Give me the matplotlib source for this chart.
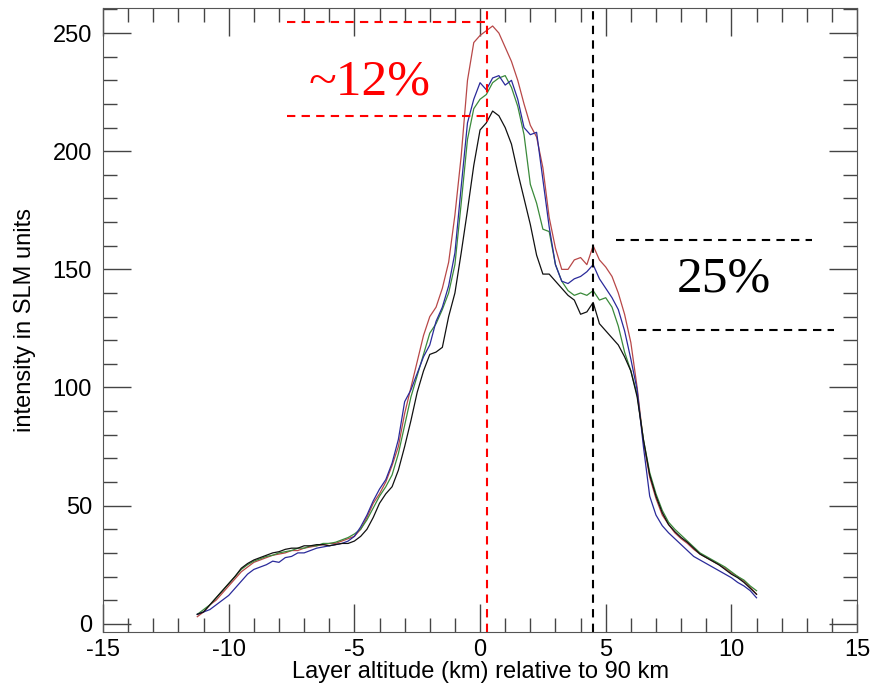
import numpy as np
import matplotlib
matplotlib.use("Agg")
import matplotlib.pyplot as plt
from matplotlib.ticker import MultipleLocator

plt.rcParams["axes.unicode_minus"] = False

# altitude grid (km, relative to 90 km)
altitude = np.arange(-11.25, 11.01, 0.25)

red = [3, 5, 8, 10, 13, 16, 19, 22, 24, 26,
       27, 28, 29, 29.5, 30, 31, 31, 32, 32.5, 33,
       33.5, 34, 34, 35, 36, 37, 40, 45, 51, 55,
       60, 67, 75, 89, 100, 111, 122, 130, 134, 142,
       153, 173, 198, 230, 246, 249, 251, 253, 250, 244,
       238, 230, 220, 211, 206, 193, 172, 159, 150, 150,
       154, 155, 152, 160, 154, 151, 147, 140, 131, 119,
       100, 77, 62, 53, 46, 42, 38.5, 36, 34, 31.5,
       29.5, 28, 26.5, 25, 23.5, 21.5, 20, 18, 15.5, 12.5]

blue = [4, 5, 6, 8, 10, 12, 15, 18, 21, 23,
        24, 25, 26.5, 26, 28, 28.5, 30, 30, 31, 32,
        32.5, 33, 33.5, 34, 35, 37, 41, 46, 52, 57,
        61, 68, 78, 94, 99, 106, 113, 118, 128, 134,
        143, 157, 185, 212, 222, 229, 226, 231, 232, 228,
        230, 222, 210, 207, 208, 188, 168, 152, 145, 144,
        146, 147, 149, 152, 146, 142, 138, 133, 124, 112,
        99, 75, 54, 46, 41.5, 38.5, 36, 33.5, 31, 28.5,
        27, 25.5, 24, 22.5, 21, 19.5, 17.5, 16, 14, 11]

green = [4, 6, 8, 11, 14, 17, 20, 23, 25, 26.5,
         27.5, 28.5, 29, 30, 30.5, 31, 32, 32, 33, 33,
         34, 34, 34.5, 35.5, 36.5, 38, 40, 44, 49, 54,
         58, 63, 72, 84, 96, 105, 114, 123, 127, 133,
         140, 152, 178, 205, 218, 222, 224, 229, 231, 232,
         227, 219, 207, 186, 178, 167, 166, 152, 145, 141,
         139, 140, 139, 141, 137, 138, 134, 126, 115, 107,
         97, 78, 64, 55, 48, 43, 40, 37.5, 35, 32.5,
         30, 28.5, 27, 25.5, 24, 22, 20, 18.5, 16, 14]

black = [4, 5, 8, 11, 14, 17, 20, 23.5, 25.5, 27,
         28, 29, 30, 30.5, 31.5, 32, 32, 33, 33, 33.5,
         33.5, 33, 33.5, 34, 34, 35, 37, 40, 45, 51,
         55, 58, 65, 75, 86, 98, 107, 114, 115, 117,
         130, 140, 157, 175, 194, 209, 212, 217, 215, 210,
         203, 191, 180, 169, 156, 148, 148, 145, 142, 139,
         137, 131, 132, 136, 127, 124, 121, 118, 113, 107,
         96, 78, 63, 54, 47, 42, 39, 36.5, 34.5, 32,
         29.5, 28, 26.5, 25, 23, 21, 19.5, 17.5, 15, 12.5]

# guide lines
peak_alt = 0.28
shoulder_alt = 4.5
peak_levels = [254.5, 215]
shoulder_levels = [162.5, 124.5]

fig = plt.figure(figsize=(8.71, 6.9), dpi=100)
ax = fig.add_axes([0.1183, 0.084, 0.8657, 0.904])

ax.plot(altitude, red, color="#b84848", lw=0.9)
ax.plot(altitude, green, color="#3a8a3a", lw=0.9)
ax.plot(altitude, blue, color="#2a2a9a", lw=0.9)
ax.plot(altitude, black, color="#111111", lw=0.9)

dash = (0, (4, 3))
ax.axvline(peak_alt, color="red", lw=1.5, ls=dash)
ax.axvline(shoulder_alt, color="black", lw=1.5, ls=dash)
for lev in peak_levels:
    ax.plot([-7.7, peak_alt], [lev, lev], color="red", lw=1.5, ls=dash)
ax.plot([5.4, 13.2], [shoulder_levels[0]] * 2, color="black", lw=1.5, ls=dash)
ax.plot([6.3, 14.1], [shoulder_levels[1]] * 2, color="black", lw=1.5, ls=dash)

ax.text(-4.4, 229, "~12%", color="red", fontsize=37, family="Liberation Serif",
        ha="center", va="center")
ax.text(9.7, 146, "25%", color="black", fontsize=37, family="Liberation Serif",
        ha="center", va="center")

ax.set_xlim(-15, 15)
ax.set_ylim(-3.5, 260.5)
ax.xaxis.set_major_locator(MultipleLocator(5))
ax.xaxis.set_minor_locator(MultipleLocator(1))
ax.yaxis.set_major_locator(MultipleLocator(50))
ax.yaxis.set_minor_locator(MultipleLocator(10))
ax.tick_params(which="both", direction="in", top=True, right=True,
               labelsize=17, color="#444444")
ax.tick_params(which="major", length=20, width=1)
ax.tick_params(which="minor", length=10, width=1)
ax.tick_params(axis="y", pad=8)
ax.tick_params(axis="x", pad=5)
for lbl in ax.get_xticklabels() + ax.get_yticklabels():
    lbl.set_family("Liberation Sans")
for s in ax.spines.values():
    s.set_color("#555555")

ax.set_xlabel("Layer altitude (km) relative to 90 km", fontsize=17,
              family="Liberation Sans", labelpad=0)
ax.set_ylabel("intensity in SLM units", fontsize=17,
              family="Liberation Sans", labelpad=12)

fig.savefig("out.png", dpi=100)
plt.close(fig)
